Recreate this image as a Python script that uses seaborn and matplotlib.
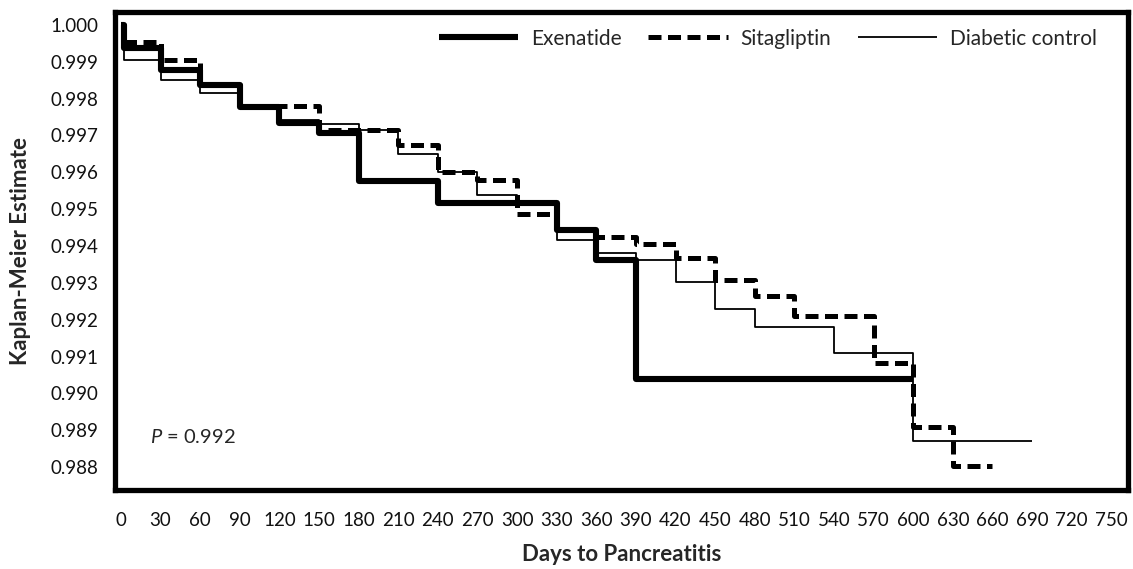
import matplotlib
matplotlib.use("Agg")
import matplotlib.pyplot as plt
import seaborn as sns
import pandas as pd

# ---------------- data ----------------
exenatide_days = [0, 2, 30, 60, 90, 120, 150, 180, 240, 330, 360, 390, 600]
exenatide_surv = [1.0, 0.99937, 0.99878, 0.99837, 0.99777, 0.99734, 0.99707,
                  0.99575, 0.99517, 0.99443, 0.99362, 0.99038, 0.99038]

sitagliptin_days = [0, 2, 30, 60, 90, 150, 210, 240, 270, 300, 330, 360, 390,
                    420, 450, 480, 510, 570, 600, 630, 660]
sitagliptin_surv = [1.0, 0.99954, 0.99905, 0.99837, 0.99780, 0.99715, 0.99674,
                    0.99601, 0.99578, 0.99487, 0.99446, 0.99424, 0.99405,
                    0.99367, 0.99307, 0.99264, 0.99209, 0.99082, 0.98908,
                    0.98802, 0.98802]

control_days = [0, 2, 30, 60, 90, 120, 150, 180, 210, 240, 270, 300, 330, 360,
                390, 420, 450, 480, 540, 600, 690]
control_surv = [1.0, 0.99905, 0.99850, 0.99815, 0.99780, 0.99742, 0.99730,
                0.99715, 0.99650, 0.99600, 0.99538, 0.99520, 0.99416, 0.99380,
                0.99362, 0.99302, 0.99228, 0.99179, 0.99109, 0.98870, 0.98870]

series_names = ["Exenatide", "Sitagliptin", "Diabetic control"]
x_ticks = [0, 30, 60, 90, 120, 150, 180, 210, 240, 270, 300, 330, 360, 390,
           420, 450, 480, 510, 540, 570, 600, 630, 660, 690, 720, 750]
y_ticks = [0.988, 0.989, 0.990, 0.991, 0.992, 0.993, 0.994, 0.995, 0.996,
           0.997, 0.998, 0.999, 1.000]
x_label = "Days to Pancreatitis"
y_label = "Kaplan-Meier Estimate"
p_text = "= 0.992"

# ---------------- style ----------------
sns.set_style("white")
plt.rcParams["font.family"] = ["Lato", "DejaVu Sans"]
plt.rcParams["mathtext.fontset"] = "custom"
plt.rcParams["mathtext.it"] = "Lato:italic"

fig = plt.figure(figsize=(11.33, 5.69), dpi=100)
ax = fig.add_axes([0.1015, 0.139, 0.8945, 0.840])

frames = {
    "Exenatide": pd.DataFrame({"day": exenatide_days, "surv": exenatide_surv}),
    "Sitagliptin": pd.DataFrame({"day": sitagliptin_days, "surv": sitagliptin_surv}),
    "Diabetic control": pd.DataFrame({"day": control_days, "surv": control_surv}),
}
styles = {
    "Exenatide": dict(linewidth=4.4, linestyle="-"),
    "Sitagliptin": dict(linewidth=3.6, linestyle=(0, (2.6, 1.3))),
    "Diabetic control": dict(linewidth=1.3, linestyle="-"),
}
for name in series_names:
    sns.lineplot(data=frames[name], x="day", y="surv", ax=ax, color="black",
                 drawstyle="steps-post", estimator=None, sort=False,
                 label=name, solid_capstyle="butt", dash_capstyle="butt",
                 **styles[name])

ax.set_xlim(-4.5, 763)
ax.set_ylim(0.98738, 1.00035)
ax.set_xticks(x_ticks)
ax.set_xticklabels([str(t) for t in x_ticks])
ax.set_yticks(y_ticks)
ax.set_yticklabels([f"{t:.3f}" for t in y_ticks])
ax.tick_params(axis="both", direction="out", length=7, width=1.6,
               labelsize=13.5, color="black", labelcolor="#111111", pad=5)
ax.tick_params(axis="x", pad=9)
for sp in ax.spines.values():
    sp.set_linewidth(3.8)
    sp.set_color("black")

ax.set_xlabel(x_label, fontsize=16, fontweight="bold", labelpad=11)
ax.set_ylabel(y_label, fontsize=16, fontweight="bold", labelpad=14)

ax.text(22, 0.98881, r"$\mathit{P}$ " + p_text, fontsize=14.5, ha="left", va="center")

leg = ax.legend(loc="upper right", ncol=3, frameon=False, fontsize=15,
                handlelength=3.8, handletextpad=0.6, columnspacing=1.3,
                bbox_to_anchor=(0.985, 1.0), borderaxespad=0.4)

fig.savefig("out.png", dpi=100)
